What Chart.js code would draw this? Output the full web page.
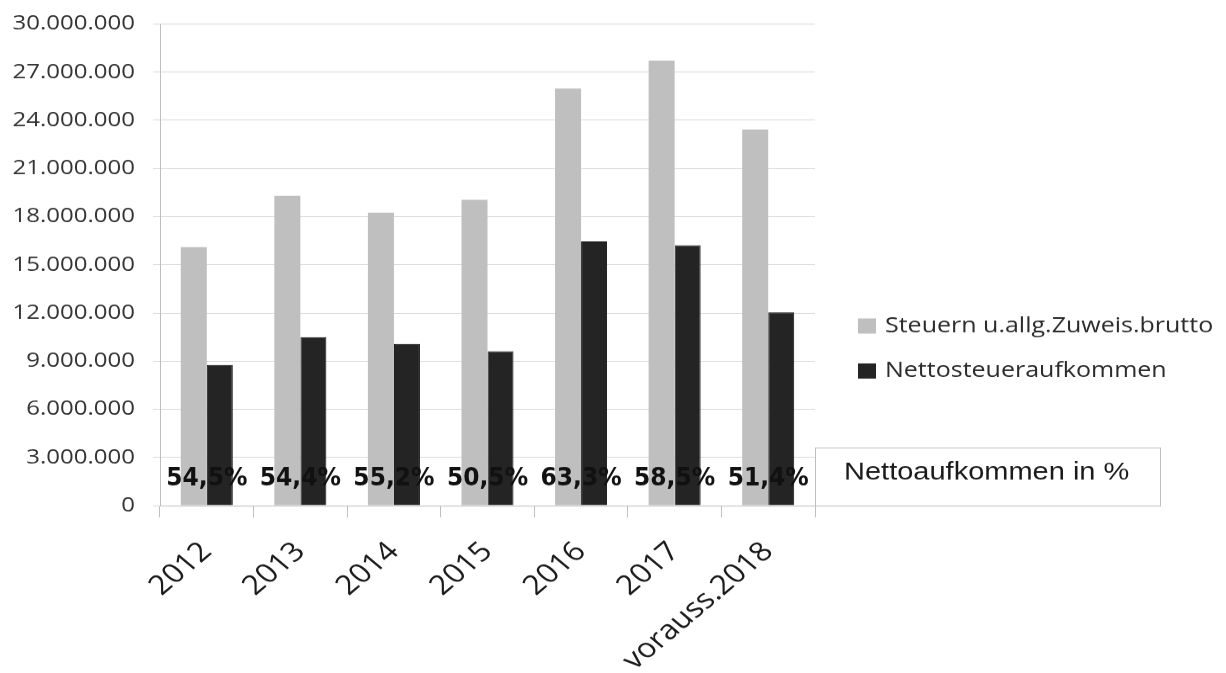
<!DOCTYPE html>
<html lang="de">
<head>
<meta charset="utf-8">
<title>Steuern und Nettosteueraufkommen 2012–2018</title>
<script src="https://cdn.jsdelivr.net/npm/chart.js@4/dist/chart.umd.min.js"></script>
<style>
  html, body { margin: 0; padding: 0; background: #ffffff; overflow: hidden; }
</style>
</head>
<body>
<!-- drawn on a taller canvas and shown at 673px, which gives the squat lettering -->
<canvas id="chart" width="1226" height="800" style="display:block;width:1226px;height:673px"></canvas>
<script>
const years = ['2012', '2013', '2014', '2015', '2016', '2017', 'vorauss.2018'];
const brutto = [16100000, 19300000, 18250000, 19050000, 25980000, 27720000, 23430000];
const netto = [8770000, 10500000, 10070000, 9620000, 16450000, 16220000, 12040000];
const nettoAnteil = ['54,5%', '54,4%', '55,2%', '50,5%', '63,3%', '58,5%', '51,4%'];
const yTickLabels = ['0', '3.000.000', '6.000.000', '9.000.000', '12.000.000', '15.000.000',
  '18.000.000', '21.000.000', '24.000.000', '27.000.000', '30.000.000'];

const seriesNames = ['Steuern u.allg.Zuweis.brutto', 'Nettosteueraufkommen'];
const seriesColors = ['#bfbfbf', '#242424'];
const boxTitle = 'Nettoaufkommen in %';

// Percentages across the foot of each year, plus the legend and the caption box on the right
const annotations = {
  id: 'annotations',
  afterDatasetsDraw(chart) {
    const { ctx, chartArea, scales } = chart;
    const x = scales.x;

    ctx.save();
    ctx.fillStyle = '#111111';
    ctx.textAlign = 'center';
    ctx.textBaseline = 'middle';
    ctx.font = 'bold 26px "DejaVu Sans Condensed", "DejaVu Sans"';
    nettoAnteil.forEach((txt, i) => {
      ctx.save();
      ctx.translate(x.getPixelForValue(i), chartArea.bottom - 32);
      ctx.scale(1, 1.18);
      ctx.fillText(txt, 0, 0);
      ctx.restore();
    });
    ctx.restore();

    // caption box
    const bx = chartArea.right, bw = 345, bh = 69, by = chartArea.bottom - bh;
    ctx.save();
    ctx.fillStyle = '#ffffff';
    ctx.fillRect(bx, by, bw, bh);
    ctx.strokeStyle = '#bfbfbf';
    ctx.lineWidth = 1;
    ctx.strokeRect(bx + 0.5, by + 0.5, bw, bh);
    ctx.fillStyle = '#1a1a1a';
    ctx.font = '29px "Liberation Sans", Arial, sans-serif';
    ctx.textAlign = 'left';
    ctx.textBaseline = 'middle';
    ctx.fillText(boxTitle, bx + 29, by + 29.5);
    ctx.restore();

    // legend
    ctx.save();
    const lx = chartArea.right + 43;
    const rows = [387.5, 441];
    ctx.font = '25px "Open Sans", sans-serif';
    ctx.textAlign = 'left';
    ctx.textBaseline = 'middle';
    seriesNames.forEach((name, i) => {
      ctx.fillStyle = seriesColors[i];
      ctx.fillRect(lx, rows[i] - 9, 18, 18);
      ctx.fillStyle = '#2b2b2b';
      ctx.fillText(name, lx + 27, rows[i]);
    });
    ctx.restore();
  }
};

new Chart(document.getElementById('chart'), {
  type: 'bar',
  data: {
    labels: years,
    datasets: [
      {
        label: seriesNames[0],
        data: brutto,
        backgroundColor: seriesColors[0],
        borderWidth: 0
      },
      {
        label: seriesNames[1],
        data: netto,
        backgroundColor: seriesColors[1],
        borderColor: '#111111',
        borderWidth: 1
      }
    ]
  },
  options: {
    responsive: false,
    devicePixelRatio: 1,
    animation: false,
    layout: { padding: { top: 28.5, right: 411, bottom: 0, left: 0 } },
    datasets: {
      bar: { categoryPercentage: 0.556, barPercentage: 1.0 }
    },
    plugins: {
      legend: { display: false },
      tooltip: { enabled: false },
      title: { display: false }
    },
    scales: {
      x: {
        offset: true,
        afterFit(scale) { scale.height = 199; },
        grid: {
          offset: true,
          drawOnChartArea: false,
          drawTicks: true,
          tickLength: 14,
          color: '#bfbfbf'
        },
        border: { color: '#bfbfbf', width: 1 },
        ticks: {
          autoSkip: false,
          minRotation: 45,
          maxRotation: 45,
          padding: 22,
          color: '#1a1a1a',
          font: { family: '"Open Sans", sans-serif', size: 32 }
        }
      },
      y: {
        min: 0,
        max: 30000000,
        afterFit(scale) {
          scale.width = 160;
          // the outer labels may overhang; keep the plot top set by the layout padding
          scale.paddingTop = 0;
          scale.paddingBottom = 0;
        },
        grid: {
          color: '#d9d9d9',
          tickLength: 7,
          lineWidth: 1
        },
        border: { color: '#bfbfbf', width: 1 },
        ticks: {
          stepSize: 3000000,
          padding: 18,
          color: '#333333',
          font: { family: '"Open Sans", sans-serif', size: 24 },
          callback: (value, index) => yTickLabels[index]
        }
      }
    }
  },
  plugins: [annotations]
});
</script>
</body>
</html>
